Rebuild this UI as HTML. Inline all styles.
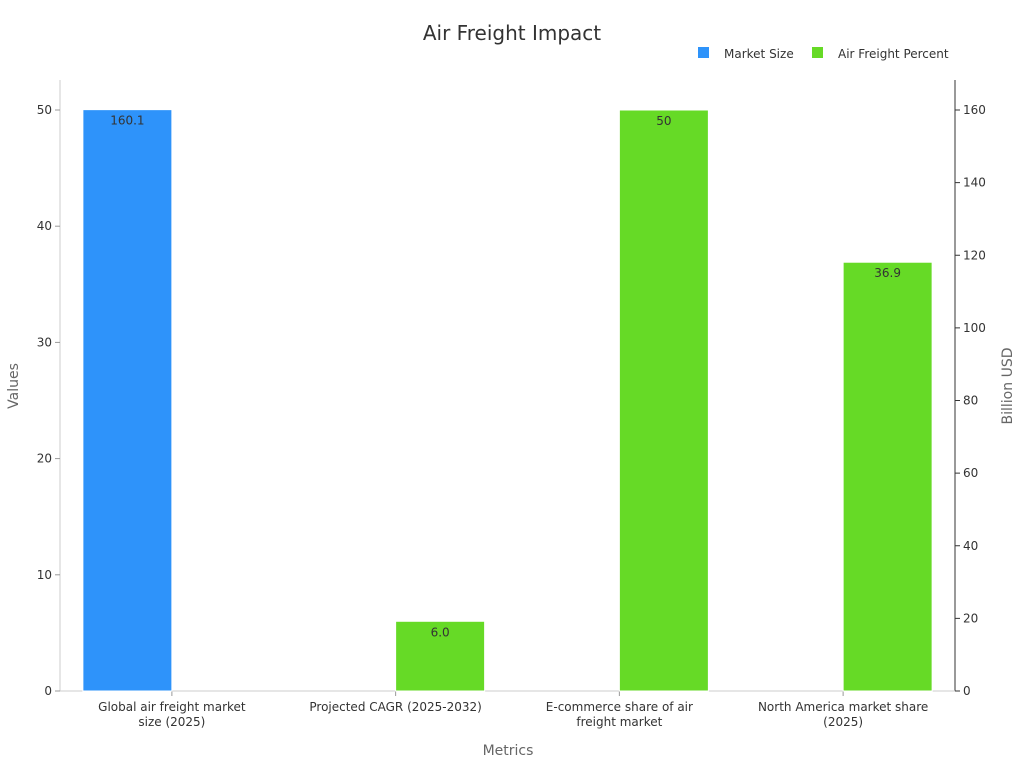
<!DOCTYPE html>
<html><head><meta charset="utf-8"><style>
body{margin:0;background:#fff;font-family:"Liberation Sans","DejaVu Sans",sans-serif;}
svg text{font-family:"DejaVu Sans","Liberation Sans",sans-serif;}
</style></head><body>
<svg id="chart" width="1024" height="768">
<text x="512" y="40" text-anchor="middle" font-size="20" fill="#333">Air Freight Impact</text>
<g>
<rect x="698" y="47" width="11" height="11" fill="#2e93fa"/>
<text x="724" y="58" font-size="12" fill="#333">Market Size</text>
<rect x="812" y="47" width="11" height="11" fill="#66da26"/>
<text x="838" y="58" font-size="12" fill="#333">Air Freight Percent</text>
</g>
<g id="axes"></g>
<g id="bars"></g>
<text x="508" y="755" text-anchor="middle" font-size="14" fill="#666">Metrics</text>
<text transform="translate(18,386) rotate(-90)" text-anchor="middle" font-size="14" fill="#666">Values</text>
<text transform="translate(1012,386) rotate(-90)" text-anchor="middle" font-size="14" fill="#666">Billion USD</text>
</svg>
<script>
const categories=[["Global air freight market","size (2025)"],["Projected CAGR (2025-2032)"],["E-commerce share of air","freight market"],["North America market share","(2025)"]];
const marketSize=[160.1,null,null,null];
const airFreightPercent=[null,6.0,50,36.9];
const marketLabels=["160.1","","",""];
const percentLabels=["","6.0","50","36.9"];
const leftTicks=[0,10,20,30,40,50];
const rightTicks=[0,20,40,60,80,100,120,140,160];
const NS="http://www.w3.org/2000/svg";
const X0=60,X1=955,Y0=691,YT=80;
const yL=v=>Y0-v*(Y0-110)/50;
const yR=v=>Y0-v*(Y0-110)/160;
const band=(X1-X0)/categories.length;
const xc=i=>X0+band*(i+0.5);
function mk(tag,attrs,parent){const e=document.createElementNS(NS,tag);for(const k in attrs)e.setAttribute(k,attrs[k]);parent.appendChild(e);return e;}
const ax=document.getElementById('axes'),bg=document.getElementById('bars');
let l=mk('line',{x1:X0,y1:YT,x2:X0,y2:Y0,stroke:'#ccc'},ax);


l=mk('line',{x1:X1,y1:YT,x2:X1,y2:Y0,stroke:'#333'},ax);


l=mk('line',{x1:X0,y1:Y0,x2:X1,y2:Y0,stroke:'#ccc'},ax);


leftTicks.forEach(v=>{const y=yL(v);
 mk('line',{x1:X0-5,y1:y,x2:X0,y2:y,stroke:'#999'},ax);
 const t=mk('text',{x:X0-8,y:y+4,'text-anchor':'end','font-size':12,fill:'#333'},ax);t.textContent=v;
 
 });
rightTicks.forEach(v=>{const y=yR(v);
 mk('line',{x1:X1,y1:y,x2:X1+5,y2:y,stroke:'#333'},ax);
 const t=mk('text',{x:X1+8,y:y+4,'font-size':12,fill:'#333'},ax);t.textContent=v;
 
 });
const bw=89;
categories.forEach((c,i)=>{const x=xc(i);
 mk('line',{x1:x,y1:Y0,x2:x,y2:Y0+5,stroke:'#999'},ax);
 c.forEach((s,j)=>{const t=mk('text',{x:x,y:711+j*15,'text-anchor':'middle','font-size':12,fill:'#333'},ax);t.textContent=s;
  
  });
 if(marketSize[i]!=null){const y=yR(marketSize[i]);
  const r=mk('rect',{x:x-bw,y:y,width:bw,height:Y0-y,fill:'#2e93fa',stroke:'#fff'},bg);
  
  
  const t=mk('text',{x:x-bw/2,y:y+15,'text-anchor':'middle','font-size':12,fill:'#333'},bg);t.textContent=marketLabels[i];
  
  }
 if(airFreightPercent[i]!=null){const y=yL(airFreightPercent[i]);
  const r=mk('rect',{x:x,y:y,width:bw,height:Y0-y,fill:'#66da26',stroke:'#fff'},bg);
  
  
  const t=mk('text',{x:x+bw/2,y:y+15,'text-anchor':'middle','font-size':12,fill:'#333'},bg);t.textContent=percentLabels[i];
  
  }
});
</script>
</body></html>
